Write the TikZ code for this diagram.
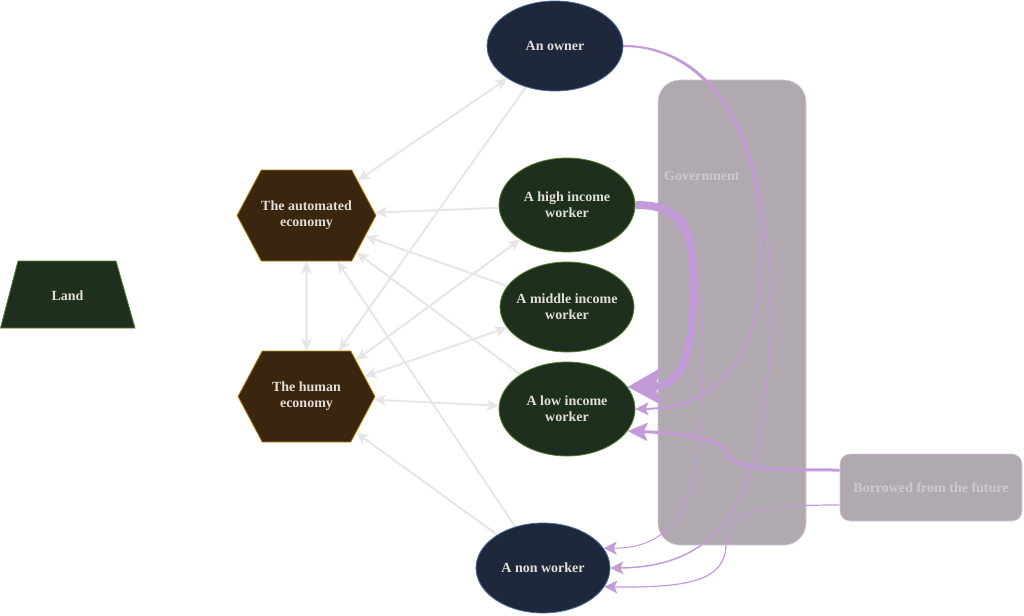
\documentclass[tikz,border=0pt]{standalone}
\usepackage{fontspec}
\setmainfont{Liberation Serif}
\usetikzlibrary{shapes.geometric,shapes.symbols,arrows.meta,calc}
\definecolor{navyfill}{HTML}{1E283A}
\definecolor{navyline}{HTML}{4A6FA5}
\definecolor{greenfill}{HTML}{1F2F1D}
\definecolor{greenline}{HTML}{55802F}
\definecolor{brownfill}{HTML}{3A250E}
\definecolor{brownline}{HTML}{B8860B}
\definecolor{nodetext}{HTML}{E2DED8}
\definecolor{boxfill}{HTML}{B0AAB0}
\definecolor{boxline}{HTML}{D6C8DC}
\definecolor{boxtext}{HTML}{CDC9CD}
\definecolor{linegray}{HTML}{E6E6E6}
\definecolor{lilac}{HTML}{C39BD8}
\pgfdeclarelayer{bg}
\pgfdeclarelayer{edges}
\pgfsetlayers{bg,edges,main}
\tikzset{
  lbl/.style={font=\bfseries\fontsize{14}{16}\selectfont, text=nodetext, align=center, inner sep=0pt},
  person/.style={lbl, ellipse, draw=navyline, fill=navyfill, line width=0.8pt},
  worker/.style={lbl, ellipse, draw=greenline, fill=greenfill, line width=0.8pt, inner xsep=-12pt},
  economy/.style={lbl, signal, signal to=east and west, signal pointer angle=124,
     draw=brownline, fill=brownfill, line width=0.8pt, minimum width=137pt, minimum height=91pt},
  box/.style={rectangle, rounded corners=#1, fill=boxfill, draw=boxline, line width=0.6pt},
  graylink/.style={draw=linegray, line width=2pt},
  gtip/.tip={Stealth[length=12pt,width=11pt,inset=3pt]},
  ptip/.tip={Stealth[length=13pt,width=13pt,inset=3pt]},
  purplelink/.style={draw=lilac, line width=#1},
}
\begin{document}
\begin{tikzpicture}[x=1pt,y=-1pt]
\useasboundingbox (0,0) rectangle (1024,615);

% land
\filldraw[draw=greenline, fill=greenfill, line width=0.8pt]
  (0.5,328) -- (18,261) -- (116,261) -- (135,328) -- cycle;
\node[lbl] (land) at (67.5,296) {Land};

% nodes
\node[economy] (auto) at (306.5,215.5) {The automated\\economy};
\node[economy] (human) at (306.5,396.5) {The human\\economy};
\node[person, minimum width=136pt, minimum height=90pt] (owner) at (555,46) {An owner};
\node[worker, minimum width=136pt, minimum height=94pt] (high) at (567,205) {A high income\\worker};
\node[worker, minimum width=134pt, minimum height=90pt] (middle) at (567,307) {A middle income\\worker};
\node[worker, minimum width=136pt, minimum height=94pt] (low) at (567,409) {A low income\\worker};
\node[person, minimum width=134pt, minimum height=90pt] (non) at (543,568) {A non worker};

\begin{pgfonlayer}{bg}
  \node[box=22pt, minimum width=148pt, minimum height=465pt] (gov) at (732,312.5) {};
  \node[box=10pt, minimum width=182pt, minimum height=67pt, lbl, text=boxtext] (borrowed) at (931,487.5) {Borrowed from the future};
\end{pgfonlayer}
\node[lbl, text=boxtext, anchor=west] (govlabel) at (664,176) {Government};

\begin{pgfonlayer}{edges}
  % gray links
  \draw[graylink, gtip-gtip] (owner) -- (auto);
  \draw[graylink, -gtip] (owner) -- (human);
  \draw[graylink, -gtip] (high) -- (auto);
  \draw[graylink, gtip-gtip] (auto) -- (human);
  \draw[graylink, -gtip] (middle) -- (auto);
  \draw[graylink, -gtip] (low) -- (auto);
  \draw[graylink, gtip-gtip] (human) -- (high);
  \draw[graylink, gtip-gtip] (human) -- (middle);
  \draw[graylink, gtip-gtip] (human) -- (low);
  \draw[graylink, -gtip] (non) -- (auto);
  \draw[graylink, -gtip] (non) -- (human);

  % purple flows
  \draw[purplelink=8pt, -{Stealth[length=35pt,width=38pt,inset=8pt]}]
    (high.east) .. controls (690,205) and (693,235) .. (693,290)
    .. controls (693,360) and (680,386) .. (low.20);
  \draw[purplelink=1pt, -ptip]
    (high.east) .. controls (685,205) and (703,260) .. (703,350)
    .. controls (703,480) and (690,548) .. (non.18);
  \draw[purplelink=2pt, -ptip]
    (owner.east) .. controls (700,46) and (760,120) .. (761,250)
    .. controls (763,360) and (715,408) .. (low.east);
  \draw[purplelink=1.5pt, -ptip]
    (owner.east) .. controls (710,46) and (770,130) .. (770,300)
    .. controls (770,480) and (735,567) .. (non.east);
  \draw[purplelink=3pt, -{Stealth[length=20pt,width=18pt,inset=4pt]}]
    ($(borrowed.west)+(0,-17.5)$) .. controls (760,470) and (735,468) .. (728,455)
    .. controls (721,440) and (700,434) .. (low.-20);
  \draw[purplelink=1.2pt, -ptip]
    ($(borrowed.west)+(0,17.5)$) .. controls (760,505) and (727,510) .. (726,545)
    .. controls (725,580) and (690,588) .. (non.-17);
\end{pgfonlayer}
\end{tikzpicture}
\end{document}
